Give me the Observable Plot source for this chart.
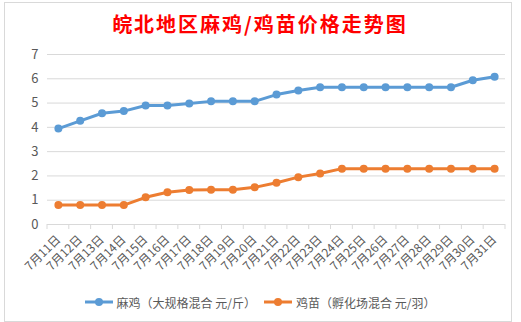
<!DOCTYPE html>
<html>
<head>
<meta charset="utf-8">
<script src="https://cdn.jsdelivr.net/npm/d3@7"></script>
<script src="https://cdn.jsdelivr.net/npm/@observablehq/plot@0.6"></script>
<style>
  html, body { margin: 0; padding: 0; background: #fff; }
  #wrap { position: relative; width: 521px; height: 322px; overflow: hidden; font-family: "Noto Sans CJK SC", "Noto Sans", sans-serif; }
  #frame { position: absolute; left: 4px; top: 2px; width: 508px; height: 320px; box-sizing: border-box; border: 1px solid #d9d9d9; }
  #title { position: absolute; left: 4px; width: 512px; top: 9px; height: 30px; line-height: 30px; text-align: center; color: #ff0000; font-weight: bold; font-size: 20px; letter-spacing: 2px; }
  #chart { position: absolute; left: 0; top: 40px; }
  #legend { position: absolute; left: 6px; width: 508px; top: 292px; height: 20px; display: flex; justify-content: center; align-items: center; font-size: 12px; color: #595959; }
  .item { display: flex; align-items: center; margin: 0 4px; }
  .item svg { margin-right: 4px; }
</style>
</head>
<body>
<div id="wrap">
  <div id="frame"></div>
  <div id="title">皖北地区麻鸡/鸡苗价格走势图</div>
  <div id="chart"></div>
  <div id="legend"></div>
</div>
<script>
const dates = ["7月11日","7月12日","7月13日","7月14日","7月15日","7月16日","7月17日","7月18日","7月19日","7月20日","7月21日","7月22日","7月23日","7月24日","7月25日","7月26日","7月27日","7月28日","7月29日","7月30日","7月31日"];
const majiValues = [3.95, 4.27, 4.58, 4.67, 4.9, 4.9, 4.98, 5.07, 5.07, 5.07, 5.35, 5.52, 5.65, 5.65, 5.65, 5.65, 5.65, 5.65, 5.65, 5.94, 6.08];
const jimiaoValues = [0.8, 0.8, 0.8, 0.8, 1.12, 1.33, 1.42, 1.43, 1.43, 1.53, 1.72, 1.95, 2.1, 2.3, 2.3, 2.3, 2.3, 2.3, 2.3, 2.3, 2.3];
const seriesNames = ["麻鸡（大规格混合 元/斤）", "鸡苗（孵化场混合 元/羽）"];
const seriesColors = ["#5b9bd5", "#ed7d31"];
const yTicks = [0, 1, 2, 3, 4, 5, 6, 7];

const rows = [];
dates.forEach((d, i) => {
  rows.push({date: d, series: seriesNames[0], value: majiValues[i]});
  rows.push({date: d, series: seriesNames[1], value: jimiaoValues[i]});
});

const W = 521, H = 245, ML = 47, MR = 16, MT = 14, MB = 61;
const gridColor = "#d9d9d9";

const plot = Plot.plot({
  width: W, height: H,
  marginLeft: ML, marginRight: MR, marginTop: MT, marginBottom: MB,
  style: {background: "transparent", color: "#595959", fontFamily: "'Noto Sans CJK SC', sans-serif", overflow: "visible"},
  x: {type: "band", domain: dates, padding: 0, round: false, label: null},
  y: {domain: [0, 7], ticks: yTicks, label: null},
  color: {domain: seriesNames, range: seriesColors},
  marks: [
    Plot.gridY(yTicks, {stroke: gridColor, strokeOpacity: 1}),
    Plot.ruleY([0], {stroke: gridColor}),
    Plot.axisY(yTicks, {tickSize: 0, tickPadding: 9, fontSize: 13, label: null}),
    Plot.axisX({tickSize: 0, tickPadding: 13, tickRotate: -45, fontSize: 12, label: null}),
    Plot.line(rows, {x: "date", y: "value", z: "series", stroke: "series", strokeWidth: 3}),
    Plot.dot(rows, {x: "date", y: "value", fill: "series", r: 4})
  ]
});

// category boundary ticks below the axis, positioned with Plot's own scales
const xs = plot.scale("x"), ys = plot.scale("y");
const bw = xs.bandwidth;
const y0 = ys.apply(0);
const bounds = dates.map(d => xs.apply(d)).concat([xs.apply(dates[dates.length - 1]) + bw]);
d3.select(plot).insert("g", ":first-child")
  .attr("stroke", gridColor)
  .selectAll("line").data(bounds).join("line")
  .attr("x1", d => d).attr("x2", d => d)
  .attr("y1", y0).attr("y2", y0 + 5);

document.getElementById("chart").appendChild(plot);

const legend = document.getElementById("legend");
seriesNames.forEach((name, i) => {
  const item = document.createElement("div");
  item.className = "item";
  item.innerHTML = `<svg width="28" height="10"><line x1="0" y1="5" x2="28" y2="5" stroke="${seriesColors[i]}" stroke-width="3"/><circle cx="14" cy="5" r="4" fill="${seriesColors[i]}"/></svg><span>${name}</span>`;
  legend.appendChild(item);
});
</script>
</body>
</html>
